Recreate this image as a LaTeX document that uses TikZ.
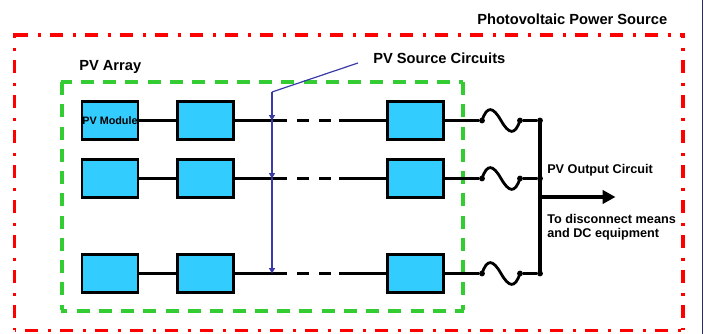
\documentclass[tikz,border=0pt]{standalone}
\usepackage{fontspec}
\setmainfont{Liberation Sans}
\usetikzlibrary{arrows.meta}
\definecolor{pvblue}{HTML}{33CCFF}
\definecolor{pvred}{HTML}{FF0000}
\definecolor{pvgreen}{HTML}{33CC33}
\definecolor{pvline}{HTML}{3B3BA8}
\tikzset{
  x=0.75pt,y=-0.75pt,
  module/.style={draw=black,fill=pvblue,line width=2.2pt,minimum width=42pt,minimum height=28pt,inner sep=0pt,outer sep=0pt},
  wire/.style={draw=black,line width=2.1pt},
  brk/.style={wire,dash pattern=on 9pt off 7.5pt,dash phase=7.5pt},
  redb/.style={draw=pvred,line width=2.4pt,dash pattern=on 9.75pt off 7.5pt on 2.25pt off 6.75pt},
  greenb/.style={draw=pvgreen,line width=2.3pt,dash pattern=on 9.75pt off 6.95pt},
  lead/.style={draw=pvline,line width=0.9pt},
  tip/.style={-{Triangle[length=4pt,width=4.4pt]}},
  lbl/.style={anchor=west,inner sep=0pt,font=\bfseries\fontsize{11}{13}\selectfont},
  sml/.style={anchor=west,inner sep=0pt,font=\bfseries\fontsize{9.5}{12}\selectfont},
  dot/.style={circle,fill=black,inner sep=0pt,minimum size=4.4pt},
}
\begin{document}
\begin{tikzpicture}
\useasboundingbox (0,0) rectangle (704,334);
\fill[pvline!70!black] (701.8,0) rectangle (703,334);
% frames
\coordinate (rtl) at (14.5,35); \coordinate (rtr) at (683,35);
\coordinate (rbl) at (14.5,330.5); \coordinate (rbr) at (683,330.5);
\draw[redb] (rtl) -- (rtr);
\draw[redb,dash phase=6pt] (rtr) ++(0,-2) -- (rbr);
\draw[redb,dash phase=6pt] (rtl) ++(0,-2) -- (rbl);
\draw[redb,dash phase=18.75pt] (rbl) -- (rbr);
\coordinate (gtl) at (62,82); \coordinate (gtr) at (463,82);
\coordinate (gbl) at (62,311); \coordinate (gbr) at (463,311);
\draw[greenb,dash phase=1.5pt] ([xshift=-1pt]gtl) -- (gtr);
\draw[greenb] (gtl) -- ([yshift=1pt]gbl);
\draw[greenb] (gtr) -- ([yshift=1pt]gbr);
\draw[greenb,dash phase=4.7pt] ([xshift=-1pt]gbl) -- ([xshift=1pt]gbr);
% modules
\foreach \r/\y in {a/120.5,b/178.5,c/273.5}{
  \node[module] (\r1) at (110,\y) {};
  \node[module] (\r2) at (205.5,\y) {};
  \node[module] (\r3) at (415.5,\y) {};
  \coordinate (\r s) at (285,\y);
  \coordinate (\r d) at (339,\y);
  \coordinate (\r t) at (272,\y);
  \coordinate (\r m) at (501,\y);
  \coordinate (\r j) at (540,\y);
  \node[dot] (\r f) at (482,\y) {};
  \node[dot] (\r g) at (520,\y) {};
  \node[dot] (\r k) at (540,\y) {};
  \draw[wire] (\r1) -- (\r2);
  \draw[wire] (\r2) -- (\r s);
  \draw[brk] (\r s) -- (\r d);
  \draw[wire] (\r d) -- (\r3);
  \draw[wire] (\r3) -- (\r f);
  \draw[wire] (\r g) -- (\r k);
  \draw[wire,line cap=round] (\r f.center) .. controls (487,\y-15) and (493,\y-14) .. (\r m) .. controls (509,\y+14) and (515,\y+15) .. (\r g.center);
}
\node[font=\bfseries\fontsize{8.1}{9}\selectfont,inner sep=0pt] (pm) at (a1) {PV Module};
\draw[draw=black,line width=2.4pt] (aj) -- (cj);
\coordinate (bus) at (540,197); \coordinate (out) at (615.5,197);
\draw[draw=black,line width=3pt,-{Triangle[length=9.75pt,width=10pt]}] (bus) -- (out);
% leader
\coordinate (ls) at (358,63); \coordinate (lk) at (272,92);
\draw[lead] (ls) -- (lk);
\draw[lead,tip] (lk) -- (at);
\draw[lead,tip] (at) -- (bt);
\draw[lead,tip] (bt) -- (ct);
% labels
\node[lbl] (t1) at (477,19) {Photovoltaic Power Source};
\node[lbl] (t2) at (79,66.5) {PV Array};
\node[lbl] (t3) at (373,58) {PV Source Circuits};
\node[sml] (t4) at (547,170.5) {PV Output Circuit};
\node[sml] (t5) at (547,219) {To disconnect means};
\node[sml] (t6) at (547,234.5) {and DC equipment};
\end{tikzpicture}
\end{document}
